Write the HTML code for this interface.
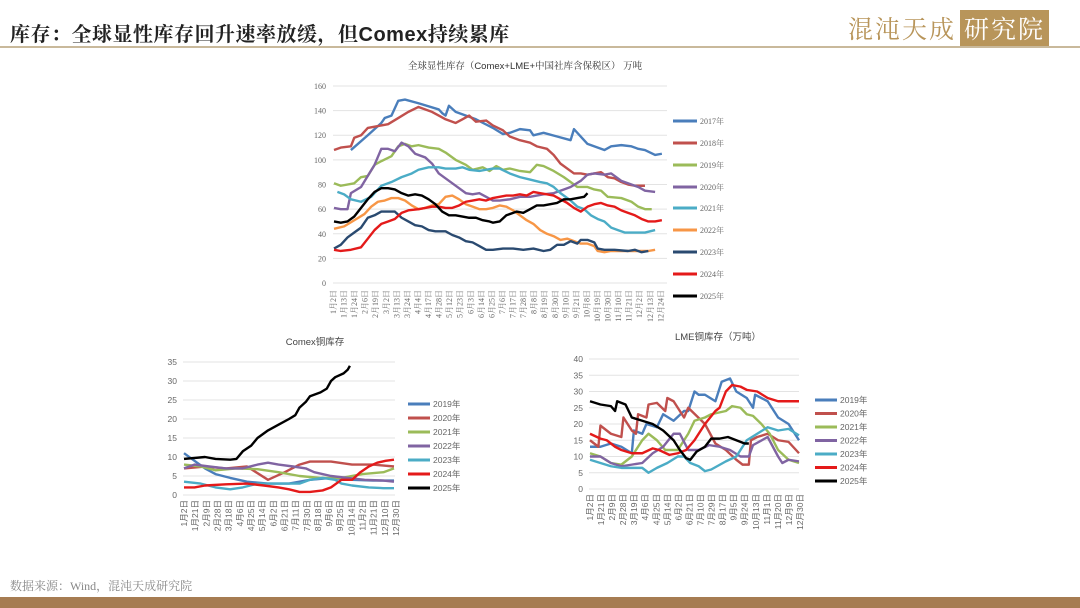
<!DOCTYPE html>
<html><head><meta charset="utf-8"><style>
body{margin:0;width:1080px;height:608px;background:#fff;overflow:hidden;position:relative;font-family:"Liberation Sans","Noto Sans CJK SC",sans-serif}
.t{position:absolute;left:10px;top:18px;font-size:20px;font-weight:bold;color:#222;font-family:"Liberation Sans","Noto Serif CJK SC",serif;letter-spacing:0.5px}
.hl{position:absolute;left:0;top:46px;width:1080px;height:2px;background:#c9b99b}
.logo{position:absolute;left:848px;top:10px;font-size:25px;color:#b8955a;font-family:"Noto Serif CJK SC",serif;letter-spacing:2px}
.logo span{background:#b8955a;color:#fff;padding:0 4px;margin-left:4px}
.src{position:absolute;left:10px;top:577px;font-size:12px;color:#888;font-family:"Liberation Serif","Noto Serif CJK SC",serif}
.bar{position:absolute;left:0;top:597px;width:1080px;height:11px;background:#a67c52}
svg{position:absolute;left:0;top:0}
</style></head><body>
<div class="t">库存：全球显性库存回升速率放缓，但Comex持续累库</div>
<div class="hl"></div>
<div class="logo">混沌天成<span>研究院</span></div>
<div class="src">数据来源：Wind，混沌天成研究院</div>
<div class="bar"></div>
<svg width="1080" height="608" xmlns="http://www.w3.org/2000/svg">
<style>
.g{stroke:#e3e3e3;stroke-width:1}
.l{fill:none;stroke-width:2.4;vector-effect:non-scaling-stroke;stroke-linejoin:round}
.ax{font-family:"Liberation Serif","Noto Serif CJK SC",serif;font-size:8px;fill:#666}
.ax2{font-family:"Liberation Sans","Noto Sans CJK SC",sans-serif;font-size:8.5px;fill:#666}
</style>
<!-- MAIN CHART -->
<text x="525" y="69" text-anchor="middle" font-size="9.5" fill="#333" font-family="Liberation Sans,Noto Serif CJK SC,serif">全球显性库存（Comex+LME+中国社库含保税区） 万吨</text>
<g class="g">
<line x1="333" x2="667" y1="86" y2="86"/><line x1="333" x2="667" y1="110.6" y2="110.6"/><line x1="333" x2="667" y1="135.2" y2="135.2"/><line x1="333" x2="667" y1="159.9" y2="159.9"/><line x1="333" x2="667" y1="184.5" y2="184.5"/><line x1="333" x2="667" y1="209.1" y2="209.1"/><line x1="333" x2="667" y1="233.8" y2="233.8"/><line x1="333" x2="667" y1="258.4" y2="258.4"/><line x1="333" x2="667" y1="283" y2="283"/>
</g>
<g class="ax" text-anchor="end">
<text x="326" y="89">160</text><text x="326" y="113.6">140</text><text x="326" y="138.2">120</text><text x="326" y="162.9">100</text><text x="326" y="187.5">80</text><text x="326" y="212.1">60</text><text x="326" y="236.8">40</text><text x="326" y="261.4">20</text><text x="326" y="286">0</text>
</g>
<g class="ax" text-anchor="end" font-size="7">
<text transform="translate(336,290) rotate(-90)">1月2日</text><text transform="translate(346.6,290) rotate(-90)">1月13日</text><text transform="translate(357.1,290) rotate(-90)">1月24日</text><text transform="translate(367.7,290) rotate(-90)">2月6日</text><text transform="translate(378.2,290) rotate(-90)">2月19日</text><text transform="translate(388.8,290) rotate(-90)">3月2日</text><text transform="translate(399.4,290) rotate(-90)">3月13日</text><text transform="translate(409.9,290) rotate(-90)">3月24日</text><text transform="translate(420.5,290) rotate(-90)">4月4日</text><text transform="translate(431,290) rotate(-90)">4月17日</text><text transform="translate(441.6,290) rotate(-90)">4月28日</text><text transform="translate(452.2,290) rotate(-90)">5月12日</text><text transform="translate(462.7,290) rotate(-90)">5月23日</text><text transform="translate(473.3,290) rotate(-90)">6月3日</text><text transform="translate(483.8,290) rotate(-90)">6月14日</text><text transform="translate(494.4,290) rotate(-90)">6月25日</text><text transform="translate(505,290) rotate(-90)">7月6日</text><text transform="translate(515.5,290) rotate(-90)">7月17日</text><text transform="translate(526.1,290) rotate(-90)">7月28日</text><text transform="translate(536.6,290) rotate(-90)">8月8日</text><text transform="translate(547.2,290) rotate(-90)">8月19日</text><text transform="translate(557.8,290) rotate(-90)">8月30日</text><text transform="translate(568.3,290) rotate(-90)">9月10日</text><text transform="translate(578.9,290) rotate(-90)">9月21日</text><text transform="translate(589.4,290) rotate(-90)">10月8日</text><text transform="translate(600,290) rotate(-90)">10月19日</text><text transform="translate(610.6,290) rotate(-90)">10月30日</text><text transform="translate(621.1,290) rotate(-90)">11月10日</text><text transform="translate(631.7,290) rotate(-90)">11月21日</text><text transform="translate(642.2,290) rotate(-90)">12月2日</text><text transform="translate(652.8,290) rotate(-90)">12月13日</text><text transform="translate(663.4,290) rotate(-90)">12月24日</text>
</g>
<g transform="translate(334,283) scale(3.38,-1.231)">
<polyline class="l" stroke="#4a7ebb" points="5,108 10,120 14,130 15,134 17,136 19,148 21,149 25,146 31,141 32,138 33,136 34,144 36,139 42,133 47,126 50,121 52,122 55,125 58,124 59,120 62,122 66,119 70,116 71,125 73,119 75,113 80,108 82,111 85,112 88,111 90,109 92,108 95,104 97,105"/>
<polyline class="l" stroke="#c0504d" points="0,108 2,110 5,111 6,118 8,120 10,126 12,127 16,129 19,134 22,139 25,143 29,139 31,136 33,133 36,130 38,133 40,136 42,131 45,132 47,128 50,124 52,119 55,116 58,114 60,111 63,109 65,104 67,97 71,89 73,89 75,88 79,90 81,86 83,85 85,82 87,80 89,79 92,79"/>
<polyline class="l" stroke="#9bbb59" points="0,81 2,79 6,81 8,86 10,87 12,96 14,99 17,103 19,111 21,113 23,111 25,112 28,110 31,109 33,106 36,100 39,96 41,92 44,94 46,91 48,95 50,92 52,93 55,91 58,90 60,96 62,95 65,91 68,86 71,80 72,78 75,78 77,76 79,75 81,70 85,69 88,66 90,62 92,60 94,60"/>
<polyline class="l" stroke="#8064a2" points="0,61 2,60 4,60 5,73 8,78 10,87 12,96 14,109 16,109 18,107 20,114 22,111 24,105 27,102 29,97 31,89 34,83 37,77 39,73 41,72 43,73 45,70 47,67 49,67 52,68 55,70 58,70 62,72 65,73 68,76 70,78 73,83 75,88 77,89 80,88 82,89 85,83 88,80 90,78 92,75 95,74"/>
<polyline class="l" stroke="#4bacc6" points="1,74 3,72 5,68 8,66 11,70 14,79 17,82 20,86 23,89 25,92 28,94 31,94 33,93 36,93 38,94 40,92 43,91 45,92 47,93 49,93 52,89 55,86 58,84 61,82 63,81 65,78 67,73 70,67 72,62 74,60 76,55 78,52 80,50 82,45 84,43 86,41 88,41 90,41 92,41 95,43"/>
<polyline class="l" stroke="#f79646" points="0,44 3,46 6,51 9,56 11,62 13,66 15,67 17,69 19,69 21,67 23,63 25,60 27,61 29,63 31,64 33,70 35,71 37,68 39,64 41,62 43,60 45,60 47,61 49,63 51,62 53,59 55,55 57,51 59,48 61,43 63,40 65,38 67,35 69,36 71,34 73,32 75,32 77,30 78,26 80,25 82,26 84,26 87,26 90,26 93,26 95,27"/>
<polyline class="l" stroke="#2a4a70" points="0,28 2,31 4,37 6,41 8,45 10,53 12,55 14,58 18,58 20,53 22,50 24,47 26,46 28,43 30,42 33,42 35,39 37,37 39,34 41,33 43,30 45,27 47,27 50,28 53,28 56,27 59,28 62,26 64,27 66,31 68,31 70,34 72,32 73,35 75,35 77,33 78,28 80,27 83,27 87,26 89,27 91,25 93,26"/>
<polyline class="l" stroke="#e41a1a" points="0,27 2,26 5,27 8,29 10,36 12,43 14,48 16,50 18,52 20,57 22,59 25,60 27,61 29,62 31,62 33,61 35,61 37,63 39,66 41,67 43,68 45,67 47,69 49,70 51,71 53,71 55,72 57,71 59,74 61,73 63,72 65,71 67,68 69,65 71,61 73,58 75,62 77,64 79,65 81,63 83,62 85,59 87,57 89,55 91,52 93,50 95,50 97,51"/>
<polyline class="l" stroke="#000" points="0,50 2,49 4,50 6,54 8,61 10,68 12,74 14,77 16,77 18,76 20,73 22,71 24,72 26,71 28,68 30,64 32,58 34,55 36,55 38,54 40,53 42,53 44,51 46,50 47,49 49,50 51,55 53,57 54,58 56,57 58,60 60,63 62,63 64,64 66,65 68,68 70,68 72,69 74,70 75,73"/>
</g>
<g stroke-width="3">
<line x1="673" x2="697" y1="121" y2="121" stroke="#4a7ebb"/><line x1="673" x2="697" y1="143" y2="143" stroke="#c0504d"/><line x1="673" x2="697" y1="165" y2="165" stroke="#9bbb59"/><line x1="673" x2="697" y1="187" y2="187" stroke="#8064a2"/><line x1="673" x2="697" y1="208" y2="208" stroke="#4bacc6"/><line x1="673" x2="697" y1="230" y2="230" stroke="#f79646"/><line x1="673" x2="697" y1="252" y2="252" stroke="#2a4a70"/><line x1="673" x2="697" y1="274" y2="274" stroke="#e41a1a"/><line x1="673" x2="697" y1="296" y2="296" stroke="#000"/>
</g>
<g class="ax" font-size="7.5">
<text x="700" y="124">2017年</text><text x="700" y="146">2018年</text><text x="700" y="168">2019年</text><text x="700" y="190">2020年</text><text x="700" y="211">2021年</text><text x="700" y="233">2022年</text><text x="700" y="255">2023年</text><text x="700" y="277">2024年</text><text x="700" y="299">2025年</text>
</g>

<!-- COMEX -->
<text x="315" y="345" text-anchor="middle" font-size="9.5" fill="#444">Comex铜库存</text>
<g class="g">
<line x1="183" x2="395" y1="362" y2="362"/><line x1="183" x2="395" y1="381" y2="381"/><line x1="183" x2="395" y1="400" y2="400"/><line x1="183" x2="395" y1="419" y2="419"/><line x1="183" x2="395" y1="438" y2="438"/><line x1="183" x2="395" y1="457" y2="457"/><line x1="183" x2="395" y1="476" y2="476"/><line x1="183" x2="395" y1="495" y2="495"/>
</g>
<g class="ax2" text-anchor="end">
<text x="177" y="365">35</text><text x="177" y="384">30</text><text x="177" y="403">25</text><text x="177" y="422">20</text><text x="177" y="441">15</text><text x="177" y="460">10</text><text x="177" y="479">5</text><text x="177" y="498">0</text>
</g>
<g class="ax2" text-anchor="end" font-size="8">
<text transform="translate(187,500) rotate(-90)">1月2日</text><text transform="translate(198.2,500) rotate(-90)">1月21日</text><text transform="translate(209.3,500) rotate(-90)">2月9日</text><text transform="translate(220.5,500) rotate(-90)">2月28日</text><text transform="translate(231.6,500) rotate(-90)">3月18日</text><text transform="translate(242.8,500) rotate(-90)">4月6日</text><text transform="translate(254,500) rotate(-90)">4月25日</text><text transform="translate(265.1,500) rotate(-90)">5月14日</text><text transform="translate(276.3,500) rotate(-90)">6月2日</text><text transform="translate(287.4,500) rotate(-90)">6月21日</text><text transform="translate(298.6,500) rotate(-90)">7月11日</text><text transform="translate(309.8,500) rotate(-90)">7月30日</text><text transform="translate(320.9,500) rotate(-90)">8月18日</text><text transform="translate(332.1,500) rotate(-90)">9月6日</text><text transform="translate(343.2,500) rotate(-90)">9月25日</text><text transform="translate(354.4,500) rotate(-90)">10月14日</text><text transform="translate(365.6,500) rotate(-90)">11月2日</text><text transform="translate(376.7,500) rotate(-90)">11月21日</text><text transform="translate(387.9,500) rotate(-90)">12月10日</text><text transform="translate(399,500) rotate(-90)">12月30日</text>
</g>
<g transform="translate(184,495) scale(2.1,-3.8)">
<polyline class="l" stroke="#4a7ebb" points="0,11 5,9 10,7 15,5.5 22,4.5 30,3.5 40,3 50,3 60,4 70,4.5 80,4 90,3.8 100,3.8"/>
<polyline class="l" stroke="#c0504d" points="0,7 10,7.5 20,7 30,7.5 40,4 48,6 55,8 60,8.8 70,8.8 80,8 90,8 100,7.5"/>
<polyline class="l" stroke="#9bbb59" points="0,8 8,7.5 15,6.5 25,7 35,6.8 45,6 55,5 65,4.5 75,4.5 85,5.5 95,6 100,7"/>
<polyline class="l" stroke="#8064a2" points="0,7 5,8 12,7.5 20,7 28,7 35,8 40,8.5 45,8 52,7.5 58,7 62,6 70,5 78,4.5 86,4 95,3.8 100,3.5"/>
<polyline class="l" stroke="#4bacc6" points="0,3.5 8,3 15,2 22,1.5 28,2 35,3 45,3 55,3 60,4 66,4.5 72,4 75,3 80,2.5 88,2 95,1.8 100,1.8"/>
<polyline class="l" stroke="#e41a1a" points="0,2 5,2 10,2.5 20,2.8 30,3 38,2.5 45,2 50,1.5 55,0.8 60,0.8 66,1.2 70,2 75,4 80,4 84,6 88,7.5 92,8.5 96,9 100,9.3"/>
<polyline class="l" stroke="#000" points="0,9.5 10,10 15,9.5 22,9.3 25,9.5 28,11.5 32,13 35,15 40,17 45,18.5 50,20 53,21 55,23 58,24.5 60,26 65,27 68,28 70,30 72,31 76,32 78,33 79,34"/>
</g>
<g stroke-width="3">
<line x1="408" x2="430" y1="404" y2="404" stroke="#4a7ebb"/><line x1="408" x2="430" y1="418" y2="418" stroke="#c0504d"/><line x1="408" x2="430" y1="432" y2="432" stroke="#9bbb59"/><line x1="408" x2="430" y1="446" y2="446" stroke="#8064a2"/><line x1="408" x2="430" y1="460" y2="460" stroke="#4bacc6"/><line x1="408" x2="430" y1="474" y2="474" stroke="#e41a1a"/><line x1="408" x2="430" y1="488" y2="488" stroke="#000"/>
</g>
<g class="ax2" font-size="8.5">
<text x="433" y="407">2019年</text><text x="433" y="421">2020年</text><text x="433" y="435">2021年</text><text x="433" y="449">2022年</text><text x="433" y="463">2023年</text><text x="433" y="477">2024年</text><text x="433" y="491">2025年</text>
</g>

<!-- LME -->
<text x="718" y="340" text-anchor="middle" font-size="9.5" fill="#444">LME铜库存（万吨）</text>
<g class="g">
<line x1="589" x2="799" y1="359" y2="359"/><line x1="589" x2="799" y1="375.3" y2="375.3"/><line x1="589" x2="799" y1="391.5" y2="391.5"/><line x1="589" x2="799" y1="407.8" y2="407.8"/><line x1="589" x2="799" y1="424" y2="424"/><line x1="589" x2="799" y1="440.3" y2="440.3"/><line x1="589" x2="799" y1="456.5" y2="456.5"/><line x1="589" x2="799" y1="472.8" y2="472.8"/><line x1="589" x2="799" y1="489" y2="489"/>
</g>
<g class="ax2" text-anchor="end">
<text x="583" y="362">40</text><text x="583" y="378.3">35</text><text x="583" y="394.5">30</text><text x="583" y="410.8">25</text><text x="583" y="427">20</text><text x="583" y="443.3">15</text><text x="583" y="459.5">10</text><text x="583" y="475.8">5</text><text x="583" y="492">0</text>
</g>
<g class="ax2" text-anchor="end" font-size="8">
<text transform="translate(593,494) rotate(-90)">1月2日</text><text transform="translate(604,494) rotate(-90)">1月21日</text><text transform="translate(615.1,494) rotate(-90)">2月9日</text><text transform="translate(626.2,494) rotate(-90)">2月28日</text><text transform="translate(637.2,494) rotate(-90)">3月19日</text><text transform="translate(648.2,494) rotate(-90)">4月6日</text><text transform="translate(659.3,494) rotate(-90)">4月25日</text><text transform="translate(670.4,494) rotate(-90)">5月14日</text><text transform="translate(681.4,494) rotate(-90)">6月2日</text><text transform="translate(692.5,494) rotate(-90)">6月21日</text><text transform="translate(703.5,494) rotate(-90)">7月10日</text><text transform="translate(714.6,494) rotate(-90)">7月29日</text><text transform="translate(725.6,494) rotate(-90)">8月17日</text><text transform="translate(736.6,494) rotate(-90)">9月5日</text><text transform="translate(747.7,494) rotate(-90)">9月24日</text><text transform="translate(758.8,494) rotate(-90)">10月13日</text><text transform="translate(769.8,494) rotate(-90)">11月1日</text><text transform="translate(780.8,494) rotate(-90)">11月20日</text><text transform="translate(791.9,494) rotate(-90)">12月9日</text><text transform="translate(803,494) rotate(-90)">12月30日</text>
</g>
<g transform="translate(590,489) scale(2.09,-3.25)">
<polyline class="l" stroke="#4a7ebb" points="0,13 5,13 10,14 15,13 20,11 21,18 25,17 27,20 32,19 35,23 40,21 45,24 47,24 50,30 52,29 55,29 60,27 63,33 67,34 70,30 75,28 78,25 79,29 85,27 90,22 95,20 100,15"/>
<polyline class="l" stroke="#c0504d" points="0,15 4,13 5,19.5 10,17 15,16 16,22 20,18 22,17 23,23 27,22 28,26 32,26.5 36,24 37,28 40,27 45,22 47,25 55,20 60,14 65,12 70,9 73,7.5 76,7.5 77,15 80,16 85,17 90,15 95,14.5 100,11"/>
<polyline class="l" stroke="#9bbb59" points="0,11 5,10 10,8 15,7.5 20,10 25,15 28,17 32,15 36,12 42,12 47,17 50,21 55,22 58,23 65,24 68,25.5 72,25 75,23 78,22.5 82,20 86,17 90,12 95,9 100,8"/>
<polyline class="l" stroke="#8064a2" points="0,10 5,10 10,8 15,7 20,7.5 25,8 30,11 35,13 40,17 43,17 47,12 52,12 57,13.5 62,13 67,12 72,10 76,10 78,13.5 85,16 90,10 92,8 95,9 100,8.5"/>
<polyline class="l" stroke="#4bacc6" points="0,9 5,8 10,7 15,6.5 20,6.5 25,6.5 28,5 32,6.5 37,8 42,10 45,10 48,8 52,7 55,5.5 58,6 65,8.5 70,10 75,15 80,17 85,19 90,18 95,18.5 100,16.5"/>
<polyline class="l" stroke="#e41a1a" points="0,17 5,15.5 8,15 12,13 15,12 20,11 25,11 30,12.5 33,12 38,10.5 42,11 46,12 50,15 55,20 60,24 62,25 65,30 68,32 72,31.5 75,30.5 80,30 85,28 90,27 95,27 100,27"/>
<polyline class="l" stroke="#000" points="0,27 5,26 10,25.5 12,24 13,27 17,26 20,22 25,21 30,20 35,18 40,15 43,12 46,9.5 48,9 51,11.5 55,13 58,15.5 62,15.5 66,16 70,15 74,14 76,14"/>
</g>
<g stroke-width="3">
<line x1="815" x2="837" y1="400" y2="400" stroke="#4a7ebb"/><line x1="815" x2="837" y1="413.5" y2="413.5" stroke="#c0504d"/><line x1="815" x2="837" y1="427" y2="427" stroke="#9bbb59"/><line x1="815" x2="837" y1="440.5" y2="440.5" stroke="#8064a2"/><line x1="815" x2="837" y1="454" y2="454" stroke="#4bacc6"/><line x1="815" x2="837" y1="467.5" y2="467.5" stroke="#e41a1a"/><line x1="815" x2="837" y1="481" y2="481" stroke="#000"/>
</g>
<g class="ax2" font-size="8.5">
<text x="840" y="403">2019年</text><text x="840" y="416.5">2020年</text><text x="840" y="430">2021年</text><text x="840" y="443.5">2022年</text><text x="840" y="457">2023年</text><text x="840" y="470.5">2024年</text><text x="840" y="484">2025年</text>
</g>
</svg>
</body></html>
